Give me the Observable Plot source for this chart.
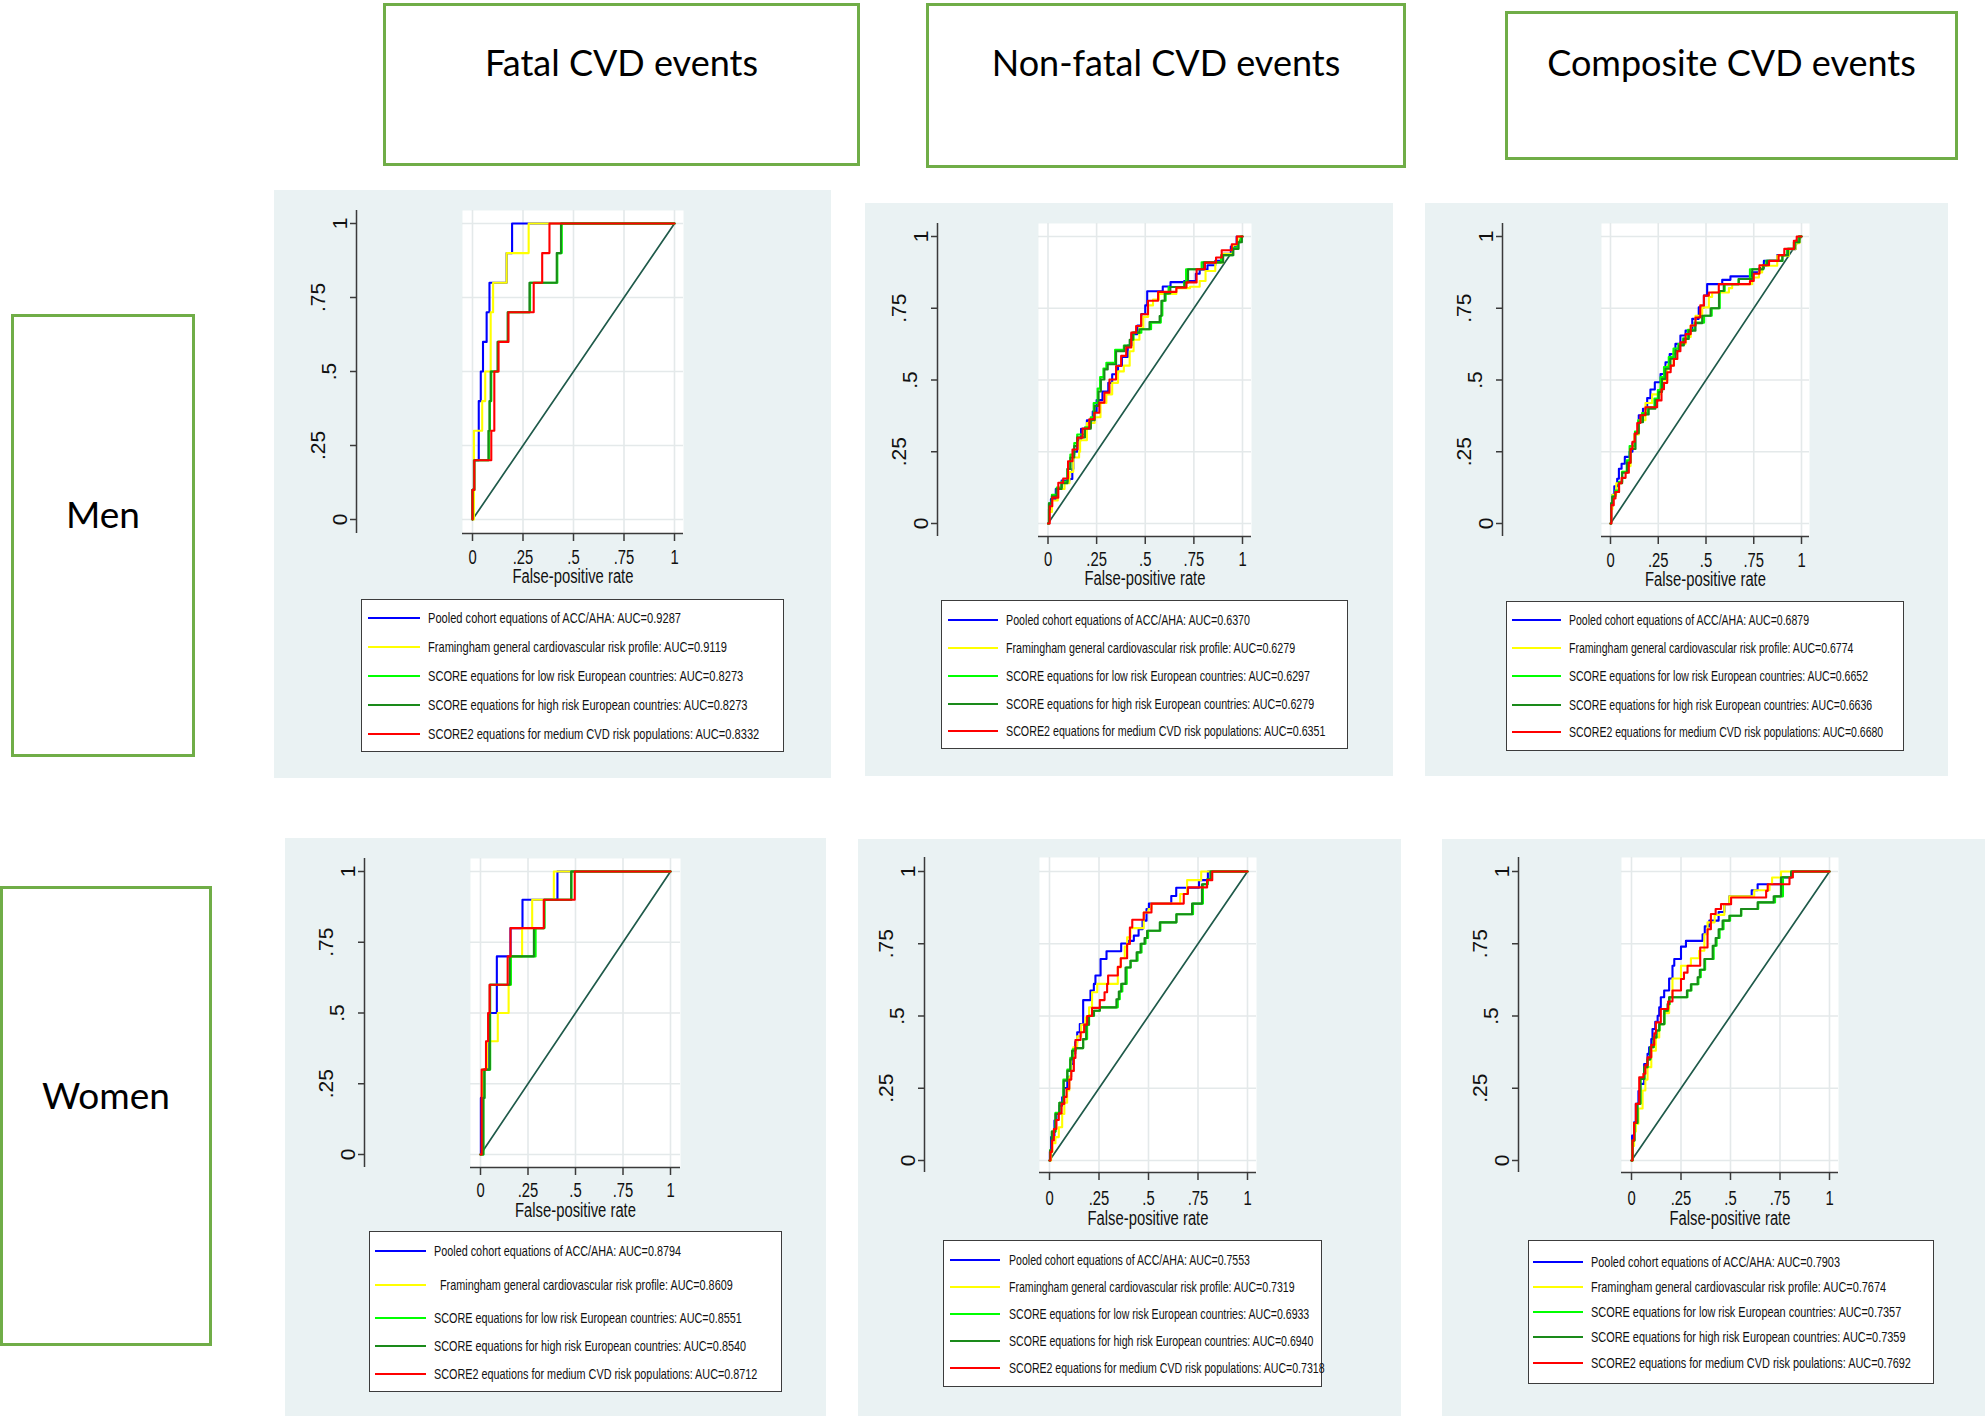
<!DOCTYPE html>
<html><head><meta charset="utf-8">
<script src="https://cdn.jsdelivr.net/npm/d3@7"></script>
<script src="https://cdn.jsdelivr.net/npm/@observablehq/plot@0.6"></script>
<style>
body{margin:0;background:#fff;}
#page{position:relative;width:1986px;height:1421px;overflow:hidden;background:#fff;}
.hbox{position:absolute;border:3px solid #70ad47;box-sizing:border-box;background:#fff;}
.htext{position:absolute;text-align:center;font-family:Lato,"Open Sans",sans-serif;color:#000;white-space:nowrap;}
.panel{position:absolute;background:#eaf2f3;}
.legend{position:absolute;background:#fff;border:1.3px solid #3c3c3c;box-sizing:border-box;}
.lline{position:absolute;height:2px;}
.ltext{position:absolute;white-space:nowrap;color:#111;font-family:"Liberation Sans",Arial,sans-serif;transform-origin:0 50%;}
</style></head>
<body><div id="page"></div>
<script>
// ---------- text / categories ----------
const columnTitles = ["Fatal CVD events", "Non-fatal CVD events", "Composite CVD events"];
const rowTitles = ["Men", "Women"];
const xTicks = [0, 0.25, 0.5, 0.75, 1];
const xTickLabels = ["0", ".25", ".5", ".75", "1"];
const yTicks = [0, 0.25, 0.5, 0.75, 1];
const yTickLabels = ["0", ".25", ".5", ".75", "1"];
const xTitle = "False-positive rate";
const modelNames = [
  "Pooled cohort equations of ACC/AHA",
  "Framingham general cardiovascular risk profile",
  "SCORE equations for low risk European countries",
  "SCORE equations for high risk European countries",
  "SCORE2 equations for medium CVD risk populations"
];
const modelNamesWomenComposite = [
  "Pooled cohort equations of ACC/AHA",
  "Framingham general cardiovascular risk profile",
  "SCORE equations for low risk European countries",
  "SCORE equations for high risk European countries",
  "SCORE2 equations for medium CVD risk poulations"
];
const aucMenFatal = ["0.9287", "0.9119", "0.8273", "0.8273", "0.8332"];
const aucMenNonFatal = ["0.6370", "0.6279", "0.6297", "0.6279", "0.6351"];
const aucMenComposite = ["0.6879", "0.6774", "0.6652", "0.6636", "0.6680"];
const aucWomenFatal = ["0.8794", "0.8609", "0.8551", "0.8540", "0.8712"];
const aucWomenNonFatal = ["0.7553", "0.7319", "0.6933", "0.6940", "0.7318"];
const aucWomenComposite = ["0.7903", "0.7674", "0.7357", "0.7359", "0.7692"];

// reference (chance) line
const diagonal = [[0, 0], [1, 1]];

// ---------- ROC points [false-positive rate, sensitivity] ----------
// Men, fatal
const MF_pce = [[0,0],[0,0.1],[0.007,0.2],[0.031,0.3],[0.031,0.4],[0.041,0.5],[0.052,0.6],[0.07,0.7],[0.084,0.8],[0.169,0.9],[0.196,1],[1,1]];
const MF_fram = [[0,0],[0.007,0.3],[0.048,0.4],[0.063,0.5],[0.09,0.6],[0.09,0.7],[0.102,0.8],[0.169,0.9],[0.278,1],[1,1]];
const MF_low = [[0,0],[0,0.1],[0.009,0.2],[0.081,0.3],[0.086,0.4],[0.093,0.5],[0.126,0.6],[0.176,0.7],[0.285,0.8],[0.42,0.9],[0.442,1],[1,1]];
const MF_high = [[0,0],[0,0.1],[0.009,0.2],[0.079,0.3],[0.084,0.4],[0.09,0.5],[0.124,0.6],[0.174,0.7],[0.282,0.8],[0.417,0.9],[0.438,1],[1,1]];
const MF_s2 = [[0,0],[0,0.1],[0.009,0.2],[0.093,0.3],[0.108,0.4],[0.108,0.5],[0.129,0.6],[0.178,0.7],[0.303,0.8],[0.345,0.9],[0.381,1],[1,1]];

// Men, non-fatal
const MN_pce = [[0,0],[0.005,0.05],[0.015,0.085],[0.04,0.12],[0.07,0.15],[0.11,0.155],[0.125,0.19],[0.13,0.25],[0.15,0.29],[0.17,0.33],[0.2,0.36],[0.23,0.39],[0.25,0.43],[0.28,0.46],[0.31,0.49],[0.33,0.52],[0.36,0.55],[0.38,0.58],[0.41,0.62],[0.43,0.66],[0.46,0.69],[0.48,0.73],[0.5,0.76],[0.51,0.809],[0.59,0.826],[0.63,0.841],[0.7,0.845],[0.76,0.87],[0.78,0.885],[0.82,0.9],[0.86,0.915],[0.9,0.94],[0.94,0.965],[0.97,1],[1,1]];
const MN_fram = [[0,0],[0.005,0.04],[0.02,0.08],[0.05,0.12],[0.085,0.14],[0.11,0.18],[0.13,0.23],[0.16,0.25],[0.165,0.29],[0.2,0.35],[0.24,0.37],[0.27,0.42],[0.3,0.45],[0.33,0.49],[0.36,0.53],[0.39,0.55],[0.42,0.6],[0.44,0.64],[0.47,0.68],[0.49,0.72],[0.515,0.76],[0.54,0.78],[0.57,0.8],[0.66,0.82],[0.73,0.825],[0.78,0.845],[0.81,0.88],[0.86,0.91],[0.9,0.94],[0.95,0.97],[0.975,1],[1,1]];
const MN_low = [[0,0],[0.005,0.07],[0.02,0.1],[0.045,0.125],[0.07,0.145],[0.1,0.19],[0.115,0.24],[0.135,0.28],[0.15,0.31],[0.19,0.335],[0.22,0.37],[0.235,0.42],[0.255,0.47],[0.268,0.51],[0.285,0.54],[0.3,0.56],[0.345,0.605],[0.39,0.62],[0.425,0.64],[0.44,0.665],[0.48,0.677],[0.53,0.7],[0.58,0.725],[0.588,0.776],[0.605,0.802],[0.62,0.824],[0.7,0.84],[0.71,0.886],[0.79,0.91],[0.89,0.935],[0.95,0.96],[0.975,0.98],[0.99,1],[1,1]];
const MN_high = [[0,0],[0.005,0.07],[0.02,0.095],[0.045,0.12],[0.07,0.14],[0.1,0.19],[0.115,0.23],[0.135,0.27],[0.15,0.3],[0.19,0.33],[0.22,0.36],[0.24,0.41],[0.26,0.46],[0.272,0.502],[0.29,0.537],[0.307,0.555],[0.35,0.6],[0.393,0.619],[0.42,0.64],[0.436,0.665],[0.47,0.677],[0.522,0.702],[0.574,0.723],[0.583,0.776],[0.6,0.802],[0.629,0.824],[0.703,0.84],[0.72,0.886],[0.8,0.91],[0.9,0.935],[0.953,0.957],[0.98,0.98],[0.997,1],[1,1]];
const MN_s2 = [[0,0],[0.009,0.06],[0.022,0.09],[0.053,0.142],[0.078,0.157],[0.103,0.217],[0.126,0.258],[0.152,0.299],[0.178,0.331],[0.212,0.363],[0.238,0.386],[0.264,0.421],[0.29,0.456],[0.316,0.502],[0.35,0.549],[0.376,0.584],[0.402,0.613],[0.428,0.665],[0.453,0.688],[0.479,0.729],[0.514,0.776],[0.566,0.807],[0.66,0.822],[0.712,0.84],[0.764,0.886],[0.807,0.909],[0.864,0.927],[0.893,0.952],[0.945,0.973],[0.971,1],[1,1]];

// Men, composite
const MC_pce = [[0,0],[0.003,0.06],[0.01,0.1],[0.02,0.13],[0.035,0.156],[0.044,0.191],[0.058,0.208],[0.075,0.232],[0.1,0.25],[0.115,0.28],[0.127,0.313],[0.148,0.377],[0.17,0.4],[0.192,0.437],[0.209,0.467],[0.232,0.492],[0.262,0.521],[0.288,0.562],[0.31,0.59],[0.34,0.626],[0.366,0.655],[0.393,0.672],[0.428,0.713],[0.462,0.753],[0.489,0.794],[0.506,0.834],[0.585,0.849],[0.628,0.861],[0.74,0.875],[0.78,0.89],[0.803,0.915],[0.873,0.935],[0.925,0.956],[0.969,0.985],[0.986,1],[1,1]];
const MC_fram = [[0,0],[0.003,0.05],[0.01,0.1],[0.03,0.14],[0.06,0.18],[0.09,0.2],[0.105,0.26],[0.125,0.31],[0.148,0.36],[0.183,0.42],[0.218,0.45],[0.26,0.47],[0.27,0.5],[0.297,0.55],[0.33,0.6],[0.358,0.626],[0.393,0.65],[0.42,0.69],[0.445,0.724],[0.48,0.753],[0.515,0.789],[0.532,0.805],[0.62,0.82],[0.637,0.834],[0.742,0.857],[0.777,0.875],[0.794,0.898],[0.873,0.933],[0.934,0.956],[0.969,0.977],[0.99,1],[1,1]];
const MC_low = [[0,0],[0.003,0.07],[0.01,0.095],[0.025,0.115],[0.044,0.145],[0.061,0.18],[0.085,0.22],[0.1,0.27],[0.128,0.32],[0.145,0.36],[0.165,0.385],[0.195,0.405],[0.23,0.435],[0.248,0.465],[0.262,0.51],[0.28,0.545],[0.305,0.58],[0.33,0.61],[0.355,0.625],[0.38,0.645],[0.405,0.675],[0.44,0.7],[0.49,0.724],[0.53,0.75],[0.572,0.81],[0.598,0.834],[0.67,0.852],[0.73,0.886],[0.8,0.9],[0.815,0.915],[0.9,0.935],[0.925,0.957],[0.96,0.98],[0.985,1],[1,1]];
const MC_high = [[0,0],[0.003,0.07],[0.009,0.093],[0.025,0.11],[0.044,0.14],[0.061,0.177],[0.087,0.212],[0.105,0.26],[0.131,0.315],[0.148,0.353],[0.17,0.38],[0.2,0.4],[0.235,0.43],[0.253,0.458],[0.27,0.504],[0.288,0.539],[0.314,0.574],[0.34,0.603],[0.36,0.62],[0.384,0.643],[0.41,0.672],[0.445,0.698],[0.48,0.724],[0.524,0.75],[0.568,0.81],[0.593,0.834],[0.672,0.852],[0.742,0.886],[0.8,0.9],[0.82,0.915],[0.9,0.935],[0.93,0.957],[0.965,0.98],[0.99,1],[1,1]];
const MC_s2 = [[0,0],[0.005,0.064],[0.017,0.087],[0.026,0.11],[0.045,0.14],[0.058,0.159],[0.079,0.177],[0.096,0.212],[0.105,0.26],[0.115,0.285],[0.127,0.313],[0.14,0.35],[0.157,0.377],[0.183,0.405],[0.244,0.429],[0.267,0.468],[0.28,0.49],[0.297,0.527],[0.315,0.55],[0.332,0.573],[0.35,0.6],[0.366,0.631],[0.393,0.66],[0.42,0.69],[0.445,0.718],[0.47,0.76],[0.489,0.794],[0.515,0.805],[0.567,0.834],[0.73,0.845],[0.75,0.87],[0.78,0.9],[0.83,0.915],[0.88,0.935],[0.91,0.957],[0.96,0.985],[0.975,1],[1,1]];

// Women, fatal
const WF_pce = [[0,0],[0.002,0.2],[0.015,0.3],[0.044,0.4],[0.044,0.5],[0.086,0.6],[0.086,0.7],[0.158,0.8],[0.221,0.9],[0.405,1],[1,1]];
const WF_fram = [[0,0],[0.011,0.3],[0.036,0.4],[0.091,0.5],[0.148,0.6],[0.158,0.7],[0.219,0.8],[0.272,0.9],[0.386,1],[1,1]];
const WF_low = [[0,0],[0.015,0.2],[0.021,0.3],[0.051,0.4],[0.051,0.6],[0.16,0.7],[0.29,0.8],[0.337,0.9],[0.479,1],[1,1]];
const WF_high = [[0,0],[0.015,0.2],[0.021,0.3],[0.049,0.4],[0.049,0.6],[0.154,0.7],[0.281,0.8],[0.335,0.9],[0.477,1],[1,1]];
const WF_s2 = [[0,0],[0.006,0.2],[0.006,0.3],[0.029,0.4],[0.04,0.5],[0.048,0.6],[0.143,0.7],[0.158,0.8],[0.333,0.9],[0.496,1],[1,1]];

// Women, non-fatal
const WN_pce = [[0,0],[0.002,0.03],[0.008,0.081],[0.025,0.138],[0.035,0.161],[0.05,0.19],[0.064,0.219],[0.072,0.251],[0.09,0.29],[0.109,0.334],[0.12,0.37],[0.13,0.41],[0.14,0.444],[0.153,0.472],[0.17,0.555],[0.207,0.588],[0.224,0.611],[0.232,0.64],[0.258,0.697],[0.288,0.724],[0.362,0.751],[0.4,0.76],[0.426,0.778],[0.45,0.8],[0.47,0.83],[0.49,0.87],[0.502,0.889],[0.615,0.915],[0.64,0.944],[0.755,0.97],[0.8,1],[1,1]];
const WN_fram = [[0,0],[0.008,0.03],[0.015,0.06],[0.03,0.081],[0.047,0.115],[0.064,0.161],[0.075,0.2],[0.089,0.242],[0.1,0.29],[0.109,0.351],[0.12,0.392],[0.14,0.43],[0.16,0.47],[0.182,0.495],[0.2,0.53],[0.215,0.582],[0.241,0.611],[0.345,0.668],[0.36,0.7],[0.38,0.74],[0.392,0.772],[0.409,0.804],[0.476,0.858],[0.5,0.87],[0.515,0.889],[0.66,0.922],[0.695,0.97],[0.766,1],[1,1]];
const WN_low = [[0,0],[0.003,0.035],[0.012,0.1],[0.03,0.165],[0.05,0.2],[0.07,0.28],[0.09,0.315],[0.105,0.355],[0.117,0.385],[0.135,0.389],[0.17,0.42],[0.19,0.47],[0.2,0.501],[0.225,0.518],[0.254,0.53],[0.345,0.558],[0.355,0.585],[0.368,0.611],[0.39,0.668],[0.41,0.691],[0.445,0.72],[0.465,0.75],[0.485,0.77],[0.498,0.795],[0.56,0.824],[0.641,0.852],[0.725,0.889],[0.775,0.956],[0.8,0.973],[0.815,1],[1,1]];
const WN_high = [[0,0],[0.003,0.035],[0.012,0.1],[0.03,0.161],[0.05,0.2],[0.072,0.276],[0.09,0.31],[0.105,0.35],[0.114,0.38],[0.131,0.389],[0.17,0.42],[0.185,0.47],[0.199,0.501],[0.224,0.518],[0.254,0.53],[0.338,0.558],[0.35,0.585],[0.362,0.611],[0.384,0.668],[0.409,0.691],[0.44,0.72],[0.46,0.75],[0.48,0.77],[0.493,0.795],[0.557,0.824],[0.641,0.852],[0.72,0.889],[0.77,0.956],[0.796,0.973],[0.813,1],[1,1]];
const WN_s2 = [[0,0],[0.005,0.03],[0.013,0.069],[0.022,0.109],[0.035,0.14],[0.047,0.163],[0.061,0.196],[0.075,0.22],[0.086,0.248],[0.1,0.28],[0.11,0.31],[0.123,0.355],[0.131,0.417],[0.157,0.444],[0.175,0.47],[0.19,0.5],[0.215,0.528],[0.254,0.555],[0.278,0.582],[0.291,0.611],[0.296,0.64],[0.345,0.67],[0.36,0.7],[0.392,0.749],[0.406,0.806],[0.418,0.833],[0.476,0.858],[0.515,0.889],[0.678,0.922],[0.699,0.945],[0.796,0.97],[0.822,1],[1,1]];

// Women, composite
const WC_pce = [[0,0],[0.003,0.086],[0.013,0.132],[0.022,0.196],[0.035,0.24],[0.044,0.265],[0.064,0.334],[0.081,0.369],[0.089,0.392],[0.1,0.42],[0.106,0.455],[0.12,0.48],[0.132,0.501],[0.14,0.53],[0.148,0.565],[0.165,0.588],[0.19,0.63],[0.207,0.674],[0.216,0.697],[0.25,0.74],[0.275,0.76],[0.359,0.783],[0.37,0.81],[0.393,0.83],[0.44,0.86],[0.469,0.887],[0.494,0.914],[0.607,0.935],[0.637,0.956],[0.755,0.979],[0.806,1],[1,1]];
const WC_fram = [[0,0],[0.005,0.05],[0.013,0.1],[0.022,0.127],[0.035,0.18],[0.056,0.242],[0.07,0.28],[0.081,0.323],[0.1,0.38],[0.123,0.426],[0.14,0.472],[0.165,0.51],[0.19,0.565],[0.207,0.63],[0.25,0.674],[0.3,0.7],[0.342,0.726],[0.368,0.783],[0.384,0.824],[0.42,0.85],[0.469,0.887],[0.494,0.914],[0.62,0.935],[0.697,0.956],[0.71,0.979],[0.755,1],[1,1]];
const WC_low = [[0,0],[0.005,0.069],[0.015,0.13],[0.03,0.196],[0.046,0.282],[0.066,0.323],[0.082,0.35],[0.096,0.392],[0.113,0.426],[0.127,0.45],[0.142,0.472],[0.167,0.518],[0.185,0.541],[0.193,0.565],[0.283,0.588],[0.303,0.61],[0.338,0.634],[0.35,0.66],[0.372,0.697],[0.415,0.743],[0.43,0.77],[0.445,0.8],[0.465,0.83],[0.498,0.847],[0.555,0.87],[0.64,0.893],[0.725,0.914],[0.765,0.98],[0.81,1],[1,1]];
const WC_high = [[0,0],[0.005,0.069],[0.015,0.13],[0.03,0.196],[0.044,0.282],[0.064,0.323],[0.08,0.35],[0.094,0.392],[0.111,0.426],[0.125,0.45],[0.14,0.472],[0.165,0.518],[0.182,0.541],[0.19,0.565],[0.28,0.588],[0.3,0.61],[0.334,0.634],[0.345,0.66],[0.368,0.697],[0.41,0.743],[0.425,0.77],[0.44,0.8],[0.46,0.83],[0.494,0.847],[0.553,0.87],[0.637,0.893],[0.718,0.914],[0.755,0.98],[0.806,1],[1,1]];
const WC_s2 = [[0,0],[0.005,0.069],[0.013,0.13],[0.022,0.196],[0.039,0.288],[0.06,0.3],[0.07,0.33],[0.081,0.357],[0.1,0.4],[0.115,0.44],[0.123,0.478],[0.148,0.524],[0.185,0.55],[0.207,0.588],[0.25,0.628],[0.265,0.65],[0.283,0.674],[0.347,0.737],[0.384,0.8],[0.401,0.853],[0.425,0.87],[0.452,0.887],[0.503,0.91],[0.68,0.933],[0.688,0.956],[0.798,0.979],[0.815,1],[1,1]];

// ---------- styles ----------
const seriesColors = ["#0000ff", "#ffff00", "#00ff00", "#1a8a1a", "#ff0000"];
const GRID = "#e4e9ea";
const DIAG = "#1f5a4a";
const AXIS = "#3a3a3a";
const REGULAR = '"Liberation Sans",Arial,sans-serif';
const TICK_FS = 20, YTICK_FS = 21;
const H_SQUEEZE = 0.74;          // horizontal text compression of the original graph exports
const Y_LABEL_GAP = 16, Y_STAGGER = 11;
const LEGEND_FS = 14.5;

// ---------- layout (pixel geometry) ----------
const headerBoxes = [[383,3,860,166],[926,3,1406,168],[1505,11,1958,160]];
const headerBaseline = 76;
const rowBoxes = [[11,314,195,757],[0,886,212,1346]];
const rowCenters = [514, 1095];

const layouts = [
  {bg:[274,190,831,778], yAxisX:356, frame:[462,210,683,533], data:[472,674,223,519], xLabelY:557, titleY:576,
   legend:[361,599,784,752], rows:[618,647,676,705,734], sample:[368,420], textX:[428,428,428,428,428], legendW:253},
  {bg:[865,203,1393,776], yAxisX:937, frame:[1038,223,1251,536], data:[1047.5,1242,236,523], xLabelY:559, titleY:578,
   legend:[941,600,1348,749], rows:[620,648,676,704,731], sample:[948,998], textX:[1006,1006,1006,1006,1006], legendW:244},
  {bg:[1425,203,1948,776], yAxisX:1502, frame:[1601,223,1809,536], data:[1610,1801,236,523], xLabelY:560, titleY:579,
   legend:[1506,601,1904,751], rows:[620,648,676,705,732], sample:[1512,1561], textX:[1569,1569,1569,1569,1569], legendW:240},
  {bg:[285,838,826,1416], yAxisX:364, frame:[470,858,680,1167], data:[480,670,871,1154], xLabelY:1190, titleY:1210,
   legend:[369,1231,782,1392], rows:[1251,1285,1318,1346,1374], sample:[375,426], textX:[434,440,434,434,434], legendW:247},
  {bg:[858,839,1401,1416], yAxisX:924, frame:[1039,857,1256,1172], data:[1049,1247,871,1160], xLabelY:1198, titleY:1218,
   legend:[943,1240,1322,1387], rows:[1260,1287,1314,1341,1368], sample:[950,1000], textX:[1009,1009,1009,1009,1009], legendW:241},
  {bg:[1442,839,1985,1416], yAxisX:1518, frame:[1621,857,1838,1172], data:[1631,1829,871,1160], xLabelY:1198, titleY:1218,
   legend:[1528,1240,1934,1384], rows:[1262,1287,1312,1337,1363], sample:[1533,1583], textX:[1591,1591,1591,1591,1591], legendW:249}
];

const panels = [
  {series:[MF_pce, MF_fram, MF_low, MF_high, MF_s2], auc:aucMenFatal, names:modelNames},
  {series:[MN_pce, MN_fram, MN_low, MN_high, MN_s2], auc:aucMenNonFatal, names:modelNames},
  {series:[MC_pce, MC_fram, MC_low, MC_high, MC_s2], auc:aucMenComposite, names:modelNames},
  {series:[WF_pce, WF_fram, WF_low, WF_high, WF_s2], auc:aucWomenFatal, names:modelNames},
  {series:[WN_pce, WN_fram, WN_low, WN_high, WN_s2], auc:aucWomenNonFatal, names:modelNames},
  {series:[WC_pce, WC_fram, WC_low, WC_high, WC_s2], auc:aucWomenComposite, names:modelNamesWomenComposite}
];

// ---------- build ----------
const page = document.getElementById("page");
function el(cls, x0, y0, x1, y1) {
  const d = document.createElement("div");
  d.className = cls;
  Object.assign(d.style, {left: x0 + "px", top: y0 + "px", width: (x1 - x0) + "px", height: (y1 - y0) + "px"});
  page.appendChild(d);
  return d;
}

headerBoxes.forEach((b, i) => {
  el("hbox", ...b);
  const t = el("htext", b[0], headerBaseline - 32, b[2], headerBaseline + 4);
  Object.assign(t.style, {fontSize: "36px", lineHeight: "36px"});
  t.textContent = columnTitles[i];
});
rowBoxes.forEach((b, i) => {
  el("hbox", ...b);
  const t = el("htext", b[0], rowCenters[i] - 20, b[2], rowCenters[i] + 20);
  Object.assign(t.style, {fontSize: "37px", lineHeight: "40px"});
  t.textContent = rowTitles[i];
});

const yLabelItems = yTicks.map((v, i) => ({v, label: yTickLabels[i]}));
const yLabelGroups = d3.groups(yLabelItems, d => d.label.length);

panels.forEach((p, k) => {
  const L = layouts[k];
  const [bx0, by0, bx1, by1] = L.bg;
  const [fx0, fy0, fx1, fy1] = L.frame;
  const [px0, px1, py1, py0] = L.data;
  el("panel", bx0, by0, bx1, by1);
  const width = bx1 - bx0;
  const height = L.titleY + 16 - by0;
  const marks = [
    Plot.frame({fill: "white", stroke: "none"}),
    Plot.gridX({ticks: xTicks, stroke: GRID, strokeOpacity: 1, strokeWidth: 1.6}),
    Plot.gridY({ticks: yTicks, stroke: GRID, strokeOpacity: 1, strokeWidth: 1.6}),
    Plot.line(diagonal, {x: d => d[0], y: d => d[1], stroke: DIAG, strokeWidth: 1.7}),
    ...p.series.map((pts, i) => Plot.line(pts, {x: d => d[0], y: d => d[1], stroke: seriesColors[i], strokeWidth: 2.1, curve: "step-after"})),
    Plot.ruleY([0], {dy: fy1 - py0, stroke: AXIS, strokeWidth: 1.5}),
    Plot.ruleX([0], {dx: L.yAxisX - px0, stroke: AXIS, strokeWidth: 1.5}),
    Plot.axisX({ticks: xTicks, tickSize: 8, tickFormat: () => "", label: null, stroke: AXIS, strokeWidth: 1.5}),
    Plot.axisY({ticks: yTicks, tickSize: 6, tickFormat: () => "", label: null, stroke: AXIS, strokeWidth: 1.5, dx: L.yAxisX - fx0}),
    Plot.text(xTicks, {x: d => d, text: (d, i) => xTickLabels[i], frameAnchor: "bottom", dy: L.xLabelY - fy1, lineAnchor: "middle", fontSize: TICK_FS, fill: "#111"}),
    Plot.text([xTitle], {text: d => d, frameAnchor: "bottom", dy: L.titleY - fy1, lineAnchor: "middle", fontSize: TICK_FS, fill: "#111"}),
    ...yLabelGroups.map(([len, items]) => Plot.text(items, {
      y: d => d.v, text: d => d.label, frameAnchor: "left", rotate: -90, textAnchor: "middle", lineAnchor: "middle",
      fontSize: YTICK_FS, fill: "#111",
      dx: L.yAxisX - fx0 - Y_LABEL_GAP - (len - 1) * Y_STAGGER
    }))
  ];
  const svg = Plot.plot({
    width, height,
    marginLeft: fx0 - bx0, marginRight: bx1 - fx1, marginTop: fy0 - by0, marginBottom: height - (fy1 - by0),
    x: {domain: [0, 1], insetLeft: px0 - fx0, insetRight: fx1 - px1},
    y: {domain: [0, 1], insetTop: py1 - fy0, insetBottom: fy1 - py0},
    style: {background: "transparent", fontFamily: REGULAR, fontSize: TICK_FS + "px", color: "#111", overflow: "visible"},
    marks
  });
  Object.assign(svg.style, {position: "absolute", left: bx0 + "px", top: by0 + "px", maxWidth: "none"});
  page.appendChild(svg);
  // horizontal texts of the original exports are condensed: squeeze them
  svg.querySelectorAll("text").forEach(t => {
    if (!t.textContent) return;
    const tr = (t.getAttribute("transform") || "") + (t.parentNode.getAttribute && (t.parentNode.getAttribute("transform") || ""));
    if (tr.includes("rotate")) return;
    const w = t.getComputedTextLength();
    if (w > 0) {
      t.setAttribute("textLength", (w * H_SQUEEZE).toFixed(2));
      t.setAttribute("lengthAdjust", "spacingAndGlyphs");
    }
  });

  // legend
  const [lx0, ly0, lx1, ly1] = L.legend;
  el("legend", lx0, ly0, lx1, ly1);
  let scale = null;
  p.names.forEach((name, i) => {
    const ln = el("lline", L.sample[0], L.rows[i] - 1, L.sample[1], L.rows[i] + 1);
    ln.style.background = seriesColors[i];
    const t = document.createElement("div");
    t.className = "ltext";
    Object.assign(t.style, {left: L.textX[i] + "px", top: (L.rows[i] - 10) + "px", height: "20px", fontSize: LEGEND_FS + "px", lineHeight: "20px"});
    t.textContent = `${name}: AUC=${p.auc[i]}`;
    page.appendChild(t);
    if (scale === null) scale = L.legendW / t.getBoundingClientRect().width;
    t.style.transform = `scaleX(${scale.toFixed(4)})`;
  });
});
</script>
</body></html>
